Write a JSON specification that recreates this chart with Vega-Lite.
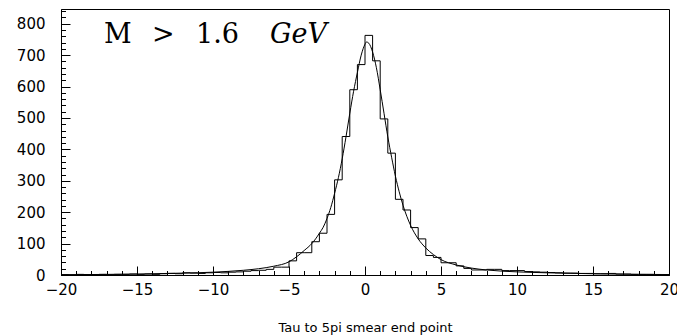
{
  "$schema": "https://vega.github.io/schema/vega-lite/v6.json",
  "width": 608,
  "height": 266,
  "autosize": {"type": "none"},
  "padding": {"left": 61, "top": 9, "right": 8, "bottom": 60},
  "background": "white",
  "config": {
    "view": {"stroke": "black", "strokeWidth": 1},
    "axis": {"grid": false, "domainColor": "black", "tickColor": "black", "labelColor": "black", "titleColor": "black", "labelFont": "DejaVu Sans", "titleFont": "DejaVu Sans"}
  },
  "datasets": {
    "hist": [
      {"lo": -20, "n": 1}, {"lo": -19.5, "n": 0}, {"lo": -19, "n": 2}, {"lo": -18.5, "n": 1},
      {"lo": -18, "n": 1}, {"lo": -17.5, "n": 2}, {"lo": -17, "n": 1}, {"lo": -16.5, "n": 2},
      {"lo": -16, "n": 2}, {"lo": -15.5, "n": 3}, {"lo": -15, "n": 2}, {"lo": -14.5, "n": 3},
      {"lo": -14, "n": 2}, {"lo": -13.5, "n": 4}, {"lo": -13, "n": 5}, {"lo": -12.5, "n": 4},
      {"lo": -12, "n": 7}, {"lo": -11.5, "n": 6}, {"lo": -11, "n": 5}, {"lo": -10.5, "n": 7},
      {"lo": -10, "n": 8}, {"lo": -9.5, "n": 7}, {"lo": -9, "n": 9}, {"lo": -8.5, "n": 10},
      {"lo": -8, "n": 12}, {"lo": -7.5, "n": 14}, {"lo": -7, "n": 15}, {"lo": -6.5, "n": 18},
      {"lo": -6, "n": 25}, {"lo": -5.5, "n": 25}, {"lo": -5, "n": 45}, {"lo": -4.5, "n": 71},
      {"lo": -4, "n": 71}, {"lo": -3.5, "n": 106}, {"lo": -3, "n": 133}, {"lo": -2.5, "n": 193},
      {"lo": -2, "n": 303}, {"lo": -1.5, "n": 441}, {"lo": -1, "n": 590}, {"lo": -0.5, "n": 670},
      {"lo": 0, "n": 763}, {"lo": 0.5, "n": 682}, {"lo": 1, "n": 497}, {"lo": 1.5, "n": 388},
      {"lo": 2, "n": 241}, {"lo": 2.5, "n": 207}, {"lo": 3, "n": 151}, {"lo": 3.5, "n": 115},
      {"lo": 4, "n": 62}, {"lo": 4.5, "n": 56}, {"lo": 5, "n": 39}, {"lo": 5.5, "n": 39},
      {"lo": 6, "n": 29}, {"lo": 6.5, "n": 21}, {"lo": 7, "n": 16}, {"lo": 7.5, "n": 16},
      {"lo": 8, "n": 18}, {"lo": 8.5, "n": 18}, {"lo": 9, "n": 14}, {"lo": 9.5, "n": 14},
      {"lo": 10, "n": 14}, {"lo": 10.5, "n": 11}, {"lo": 11, "n": 10}, {"lo": 11.5, "n": 9},
      {"lo": 12, "n": 8}, {"lo": 12.5, "n": 7}, {"lo": 13, "n": 6}, {"lo": 13.5, "n": 6},
      {"lo": 14, "n": 5}, {"lo": 14.5, "n": 5}, {"lo": 15, "n": 4}, {"lo": 15.5, "n": 4},
      {"lo": 16, "n": 5}, {"lo": 16.5, "n": 3}, {"lo": 17, "n": 3}, {"lo": 17.5, "n": 2},
      {"lo": 18, "n": 2}, {"lo": 18.5, "n": 2}, {"lo": 19, "n": 1}, {"lo": 19.5, "n": 1}
    ],
    "fit": [
      {"x": -20, "y": 1}, {"x": -15, "y": 3}, {"x": -12, "y": 6}, {"x": -10, "y": 9},
      {"x": -8, "y": 15}, {"x": -7, "y": 20}, {"x": -6, "y": 28}, {"x": -5, "y": 42},
      {"x": -4.5, "y": 58}, {"x": -4, "y": 78}, {"x": -3.5, "y": 100}, {"x": -3.25, "y": 115},
      {"x": -3, "y": 133}, {"x": -2.75, "y": 152}, {"x": -2.5, "y": 180}, {"x": -2.25, "y": 215},
      {"x": -2, "y": 260}, {"x": -1.75, "y": 310}, {"x": -1.5, "y": 370}, {"x": -1.25, "y": 440},
      {"x": -1, "y": 515}, {"x": -0.75, "y": 585}, {"x": -0.5, "y": 645}, {"x": -0.25, "y": 700},
      {"x": 0, "y": 735}, {"x": 0.1, "y": 742}, {"x": 0.25, "y": 738}, {"x": 0.5, "y": 710},
      {"x": 0.75, "y": 660}, {"x": 1, "y": 590}, {"x": 1.25, "y": 515}, {"x": 1.5, "y": 440},
      {"x": 1.75, "y": 375}, {"x": 2, "y": 315}, {"x": 2.25, "y": 265}, {"x": 2.5, "y": 222},
      {"x": 2.75, "y": 187}, {"x": 3, "y": 158}, {"x": 3.5, "y": 115}, {"x": 4, "y": 86},
      {"x": 4.5, "y": 65}, {"x": 5, "y": 49}, {"x": 6, "y": 32}, {"x": 7, "y": 22},
      {"x": 8, "y": 16}, {"x": 10, "y": 10}, {"x": 12, "y": 7}, {"x": 15, "y": 4},
      {"x": 18, "y": 2}, {"x": 20, "y": 1.5}
    ]
  },
  "resolve": {"axis": {"x": "independent", "y": "independent"}},
  "layer": [
    {
      "data": {"name": "hist"},
      "mark": {"type": "line", "interpolate": "step-after", "color": "black", "strokeWidth": 1},
      "encoding": {
        "x": {
          "field": "lo", "type": "quantitative",
          "scale": {"domain": [-20, 20], "nice": false, "zero": false},
          "axis": {
            "orient": "bottom",
            "values": [-20,-19,-18,-17,-16,-15,-14,-13,-12,-11,-10,-9,-8,-7,-6,-5,-4,-3,-2,-1,0,1,2,3,4,5,6,7,8,9,10,11,12,13,14,15,16,17,18,19,20],
            "tickSize": {"condition": {"test": "datum.value % 5 === 0", "value": -9}, "value": -4.5},
            "labelExpr": "datum.value % 5 === 0 ? (datum.value < 0 ? '\u2212' + abs(datum.value) : '' + datum.value) : ''",
            "labelFontSize": 15,
            "labelPadding": 16,
            "labelFlush": false,
            "labelOverlap": false,
            "title": "Tau to 5pi smear end point",
            "titleFontSize": 13,
            "titleFontWeight": "normal",
            "titlePadding": 20
          }
        },
        "y": {
          "field": "n", "type": "quantitative",
          "scale": {"domain": [0, 847], "nice": false},
          "axis": {
            "orient": "left",
            "values": [0,20,40,60,80,100,120,140,160,180,200,220,240,260,280,300,320,340,360,380,400,420,440,460,480,500,520,540,560,580,600,620,640,660,680,700,720,740,760,780,800,820,840],
            "tickSize": {"condition": {"test": "datum.value % 100 === 0", "value": -9}, "value": -4.5},
            "labelExpr": "datum.value % 100 === 0 ? '' + datum.value : ''",
            "labelFontSize": 15,
            "labelPadding": 25,
            "labelFlush": false,
            "labelOverlap": false,
            "title": null
          }
        }
      }
    },
    {
      "data": {"name": "fit"},
      "mark": {"type": "line", "interpolate": "monotone", "color": "black", "strokeWidth": 1},
      "encoding": {
        "x": {"field": "x", "type": "quantitative", "axis": null},
        "y": {"field": "y", "type": "quantitative", "axis": null}
      }
    },
    {
      "data": {"values": [{"t": "M"}]},
      "mark": {"type": "text", "font": "DejaVu Serif", "fontSize": 27, "align": "left", "baseline": "alphabetic", "color": "black"},
      "encoding": {"x": {"datum": -17.17, "axis": null}, "y": {"datum": 739, "axis": null}, "text": {"field": "t"}}
    },
    {
      "data": {"values": [{"t": ">"}]},
      "mark": {"type": "text", "font": "DejaVu Serif", "fontSize": 27, "align": "left", "baseline": "alphabetic", "color": "black"},
      "encoding": {"x": {"datum": -14.01, "axis": null}, "y": {"datum": 739, "axis": null}, "text": {"field": "t"}}
    },
    {
      "data": {"values": [{"t": "1.6"}]},
      "mark": {"type": "text", "font": "DejaVu Serif", "fontSize": 27, "align": "left", "baseline": "alphabetic", "color": "black"},
      "encoding": {"x": {"datum": -11.12, "axis": null}, "y": {"datum": 739, "axis": null}, "text": {"field": "t"}}
    },
    {
      "data": {"values": [{"t": "GeV"}]},
      "mark": {"type": "text", "font": "DejaVu Serif", "fontSize": 27, "fontStyle": "italic", "align": "left", "baseline": "alphabetic", "color": "black"},
      "encoding": {"x": {"datum": -6.25, "axis": null}, "y": {"datum": 739, "axis": null}, "text": {"field": "t"}}
    }
  ]
}
